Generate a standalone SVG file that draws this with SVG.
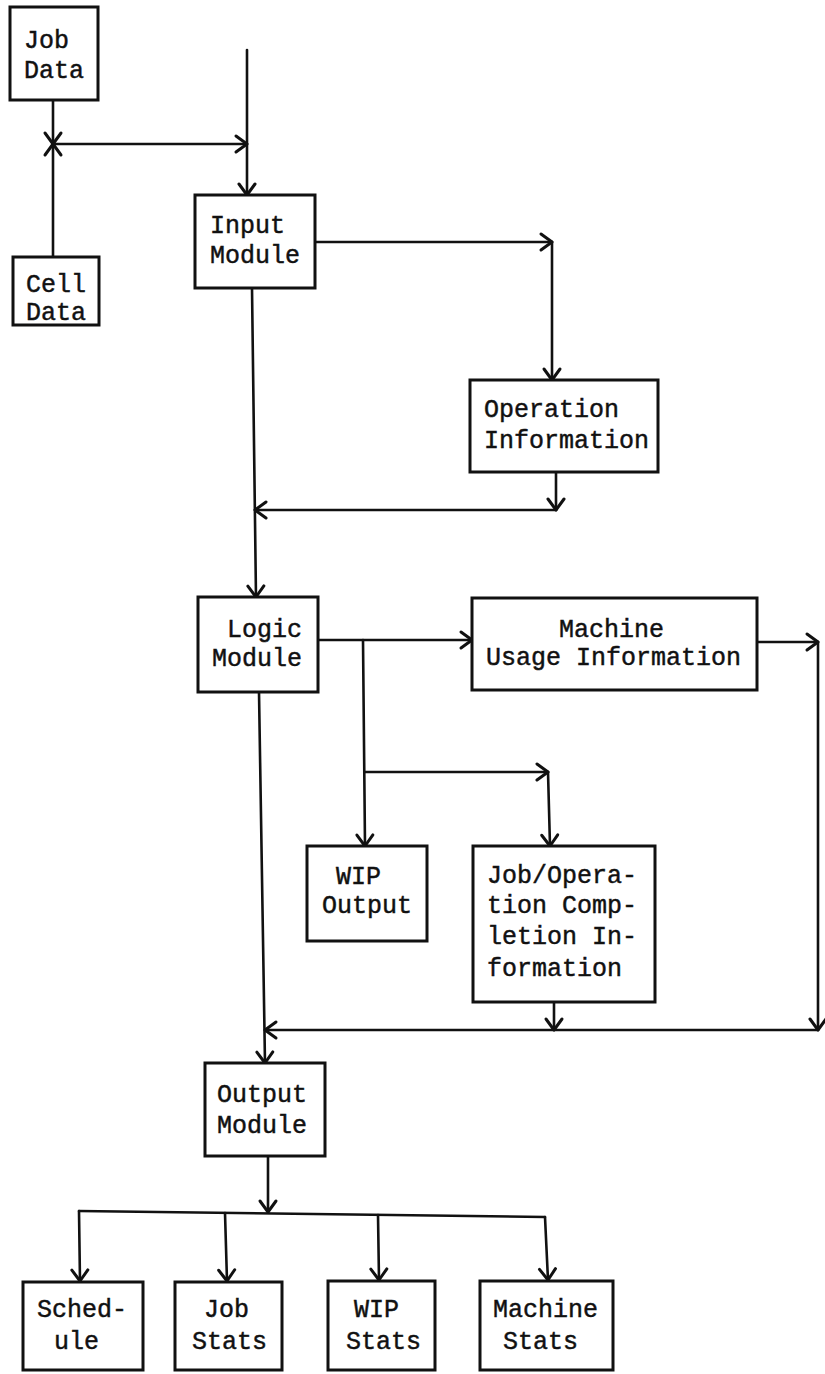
<svg xmlns="http://www.w3.org/2000/svg" width="825" height="1374" viewBox="0 0 825 1374">
<style>
.box{fill:#fff;stroke:#111;stroke-width:3}
.t{font-family:"Liberation Mono","DejaVu Sans Mono",monospace;font-size:25px;fill:#111;stroke:#111;stroke-width:0.45}
.c{fill:none;stroke:#111;stroke-width:2.6;stroke-linecap:round}
.ca{fill:none;stroke:#111;stroke-width:2.6;stroke-linecap:round;marker-end:url(#ah)}
</style>
<defs>
<marker id="ah" markerUnits="userSpaceOnUse" markerWidth="30" markerHeight="30" viewBox="-15 -15 30 30" refX="0" refY="0" orient="auto" overflow="visible">
<path d="M-11,-8 L0,0 L-11,8" fill="none" stroke="#111" stroke-width="3" stroke-linecap="round" stroke-linejoin="round"/>
</marker>
</defs>
<rect width="825" height="1374" fill="#fff"/>
<g id="connectors">
<line class="ca" x1="53" y1="100" x2="53" y2="144"/>
<line class="ca" x1="53" y1="257" x2="53" y2="144"/>
<line class="ca" x1="53" y1="144" x2="247" y2="144"/>
<line class="ca" x1="247" y1="50" x2="247" y2="195"/>
<line class="ca" x1="315" y1="242" x2="552" y2="242"/>
<line class="ca" x1="552" y1="242" x2="552" y2="380"/>
<line class="ca" x1="556" y1="472" x2="556" y2="510"/>
<line class="ca" x1="556" y1="510" x2="255" y2="510"/>
<line class="ca" x1="252" y1="288" x2="256" y2="597"/>
<line class="ca" x1="318" y1="640" x2="472" y2="640"/>
<line class="ca" x1="363" y1="640" x2="365" y2="846"/>
<line class="ca" x1="365" y1="772" x2="548" y2="772"/>
<line class="ca" x1="548" y1="772" x2="550" y2="846"/>
<line class="ca" x1="757" y1="642" x2="818" y2="642"/>
<line class="ca" x1="818" y1="642" x2="818" y2="1030"/>
<line class="ca" x1="554" y1="1002" x2="554" y2="1030"/>
<line class="ca" x1="818" y1="1030" x2="265" y2="1030"/>
<line class="ca" x1="259" y1="692" x2="265" y2="1063"/>
<line class="ca" x1="268" y1="1156" x2="268" y2="1212"/>
<line class="c" x1="79" y1="1211" x2="545" y2="1217"/>
<line class="ca" x1="79" y1="1211" x2="80" y2="1281"/>
<line class="ca" x1="225" y1="1213" x2="227" y2="1281"/>
<line class="ca" x1="378" y1="1215" x2="379" y2="1280"/>
<line class="ca" x1="545" y1="1217" x2="548" y2="1280"/>
</g>
<g id="job-data"><rect class="box" x="10" y="7" width="88" height="93"/><text class="t" x="24" y="48">Job</text><text class="t" x="24" y="78">Data</text></g>
<g id="cell-data"><rect class="box" x="13" y="257" width="86" height="68"/><text class="t" x="26" y="292">Cell</text><text class="t" x="26" y="320">Data</text></g>
<g id="input-module"><rect class="box" x="195" y="195" width="120" height="93"/><text class="t" x="210" y="233">Input</text><text class="t" x="210" y="263">Module</text></g>
<g id="operation-information"><rect class="box" x="470" y="380" width="188" height="92"/><text class="t" x="484" y="417">Operation</text><text class="t" x="484" y="448">Information</text></g>
<g id="logic-module"><rect class="box" x="198" y="597" width="120" height="95"/><text class="t" x="227" y="637">Logic</text><text class="t" x="212" y="666">Module</text></g>
<g id="machine-usage-information"><rect class="box" x="472" y="598" width="285" height="92"/><text class="t" x="559" y="637">Machine</text><text class="t" x="486" y="665">Usage Information</text></g>
<g id="wip-output"><rect class="box" x="307" y="846" width="120" height="95"/><text class="t" x="336" y="884">WIP</text><text class="t" x="322" y="913">Output</text></g>
<g id="job-operation-completion"><rect class="box" x="473" y="846" width="182" height="156"/><text class="t" x="487" y="883">Job/Opera-</text><text class="t" x="487" y="913">tion Comp-</text><text class="t" x="487" y="944">letion In-</text><text class="t" x="487" y="976">formation</text></g>
<g id="output-module"><rect class="box" x="205" y="1063" width="120" height="93"/><text class="t" x="217" y="1102">Output</text><text class="t" x="217" y="1133">Module</text></g>
<g id="schedule"><rect class="box" x="23" y="1282" width="120" height="88"/><text class="t" x="37" y="1317">Sched-</text><text class="t" x="54" y="1349">ule</text></g>
<g id="job-stats"><rect class="box" x="175" y="1282" width="107" height="88"/><text class="t" x="204" y="1317">Job</text><text class="t" x="192" y="1349">Stats</text></g>
<g id="wip-stats"><rect class="box" x="328" y="1281" width="107" height="89"/><text class="t" x="354" y="1317">WIP</text><text class="t" x="346" y="1349">Stats</text></g>
<g id="machine-stats"><rect class="box" x="480" y="1281" width="133" height="89"/><text class="t" x="493" y="1317">Machine</text><text class="t" x="503" y="1349">Stats</text></g>
</svg>
